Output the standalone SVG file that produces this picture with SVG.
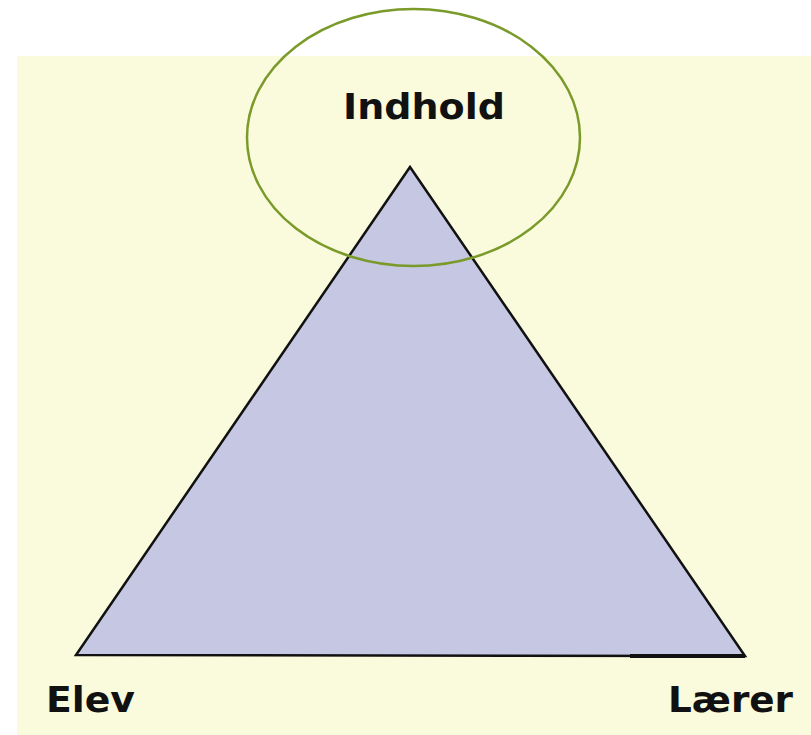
<svg xmlns="http://www.w3.org/2000/svg" width="811" height="735" viewBox="0 0 811 735">
<style>
.lbl{font-family:"DejaVu Sans",Verdana,sans-serif;font-weight:bold;font-size:35px;fill:#111;}
</style>
<rect width="811" height="735" fill="#ffffff"/>
<rect x="17" y="56" width="794" height="679" fill="#fafadc"/>
<g id="connectors">
<polygon points="410,167 76,655 745,656" fill="#c5c7e3" stroke="#111" stroke-width="2.5" stroke-linejoin="miter"/>
<line x1="630" y1="656" x2="745" y2="656" stroke="#111" stroke-width="4"/>
</g>
<g id="indhold">
<ellipse cx="413.5" cy="137.5" rx="166.5" ry="128.5" fill="none" stroke="#7a9a2a" stroke-width="2.5"/>
<text class="lbl" x="343" y="119" textLength="162" lengthAdjust="spacingAndGlyphs">Indhold</text>
</g>
<g id="elev">
<text class="lbl" x="46" y="712" textLength="89" lengthAdjust="spacingAndGlyphs">Elev</text>
</g>
<g id="laerer">
<text class="lbl" x="668" y="712" textLength="125" lengthAdjust="spacingAndGlyphs">Lærer</text>
</g>
</svg>
